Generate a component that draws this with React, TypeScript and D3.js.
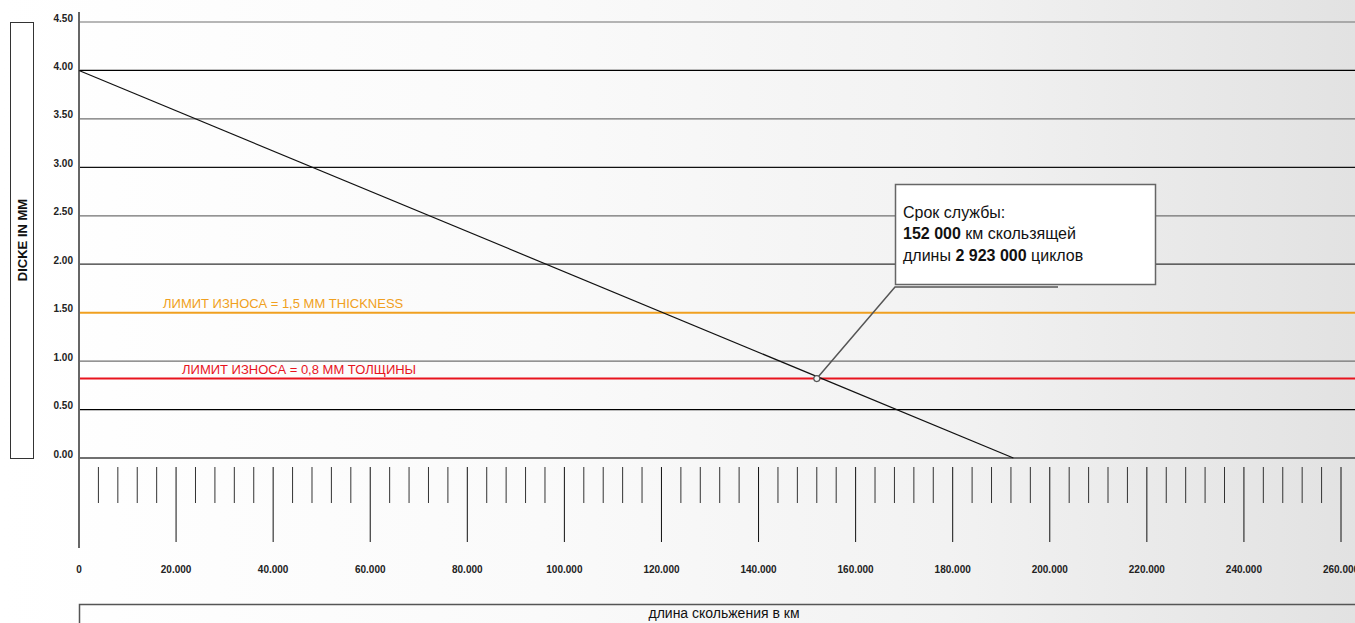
import React from "react";
import * as d3 from "d3";

const W = 1355;
const H = 623;

// Data
const yTicks = [0, 0.5, 1.0, 1.5, 2.0, 2.5, 3.0, 3.5, 4.0, 4.5];
const yTickLabels = ["0.00", "0.50", "1.00", "1.50", "2.00", "2.50", "3.00", "3.50", "4.00", "4.50"];
const gridColors = ["#707070", "#000000", "#707070", "#f0a020", "#333333", "#707070", "#111111", "#707070", "#000000", "#707070"];
const xMajorTicks = [0, 20000, 40000, 60000, 80000, 100000, 120000, 140000, 160000, 180000, 200000, 220000, 240000, 260000];
const xMajorLabels = ["0", "20.000", "40.000", "60.000", "80.000", "100.000", "120.000", "140.000", "160.000", "180.000", "200.000", "220.000", "240.000", "260.000"];
const xMinorStep = 4000;
const wearLine = [
  { km: 0, mm: 4.0 },
  { km: 192500, mm: 0 },
];
const limitOrange = 1.5;
const limitRed = 0.82;
const servicePoint = { km: 152000, mm: 0.82 };
const orangeLabel = "ЛИМИТ ИЗНОСА = 1,5 ММ THICKNESS";
const redLabel = "ЛИМИТ ИЗНОСА = 0,8 ММ ТОЛЩИНЫ";
const yTitle = "DICKE IN MM";
const xTitle = "длина скольжения в км";

export default function App() {
  const x = d3.scaleLinear().domain([0, 260000]).range([79, 1341]);
  const y = d3.scaleLinear().domain([0, 4.5]).range([458, 22]);

  const minor = d3.range(xMinorStep, 260001, xMinorStep);
  const line = d3
    .line<{ km: number; mm: number }>()
    .x((d) => x(d.km))
    .y((d) => y(d.mm));

  const font = "'Liberation Sans', Arial, Helvetica, sans-serif";
  const box = { x: 895, y: 184, w: 260, h: 100 };
  const px = x(servicePoint.km);
  const py = y(servicePoint.mm);

  return (
    <svg
      width={W}
      height={H}
      style={{ position: "absolute", left: 0, top: 0, display: "block" }}
      fontFamily={font}
    >
      <defs>
        <linearGradient id="bg" x1="0" x2="1" y1="0" y2="0">
          <stop offset="0%" stopColor="#ffffff" />
          <stop offset="40%" stopColor="#fafafa" />
          <stop offset="70%" stopColor="#f2f2f2" />
          <stop offset="100%" stopColor="#e2e2e2" />
        </linearGradient>
      </defs>
      <rect x={0} y={0} width={W} height={H} fill="url(#bg)" />

      {/* Y title box */}
      <rect x={10.5} y={22.5} width={23} height={436} fill="#ffffff" stroke="#333" strokeWidth={1} />
      <text
        transform={`translate(26.5,${240}) rotate(-90)`}
        textAnchor="middle"
        fontSize={13}
        fontWeight="bold"
        fill="#111"
      >
        {yTitle}
      </text>

      {/* Gridlines */}
      {yTicks.map((t, i) => (
        <line
          key={"g" + i}
          x1={79}
          x2={W}
          y1={y(t)}
          y2={y(t)}
          stroke={gridColors[i]}
          strokeWidth={t === 0 ? 2 : t === limitOrange ? 2 : 1.2}
        />
      ))}
      {/* red limit line */}
      <line x1={79} x2={W} y1={y(limitRed)} y2={y(limitRed)} stroke="#e8141e" strokeWidth={2} />

      {/* limit labels */}
      <text x={163} y={y(limitOrange) - 5} fontSize={13} fill="#f0a020">
        {orangeLabel}
      </text>
      <text x={182} y={y(limitRed) - 5} fontSize={13} fill="#e8141e">
        {redLabel}
      </text>

      {/* Y tick labels */}
      {yTicks.map((t, i) => (
        <text
          key={"yl" + i}
          x={73}
          y={y(t) - 0.5}
          textAnchor="end"
          fontSize={10}
          fontWeight="bold"
          fill="#222"
        >
          {yTickLabels[i]}
        </text>
      ))}

      {/* Y axis line */}
      <line x1={79} x2={79} y1={12} y2={548} stroke="#666" strokeWidth={2} />

      {/* x ticks */}
      {minor.map((v) => {
        const major = v % 20000 === 0;
        return (
          <line
            key={"t" + v}
            x1={x(v)}
            x2={x(v)}
            y1={467}
            y2={major ? 542 : 503}
            stroke={major ? "#111" : "#333"}
            strokeWidth={1}
          />
        );
      })}
      {xMajorTicks.map((t, i) => (
        <text
          key={"xl" + i}
          x={x(t)}
          y={573}
          textAnchor="middle"
          fontSize={10}
          fontWeight="bold"
          fill="#222"
        >
          {xMajorLabels[i]}
        </text>
      ))}

      {/* wear line */}
      <path d={line(wearLine) || ""} fill="none" stroke="#111" strokeWidth={1.2} />

      {/* leader */}
      <polyline
        points={`${px},${py} ${box.x},${box.y + box.h + 3} ${1058},${box.y + box.h + 3}`}
        fill="none"
        stroke="#555"
        strokeWidth={1.5}
      />
      <circle cx={px} cy={py} r={3} fill="#f4f4f4" stroke="#555" strokeWidth={1.2} />

      {/* annotation box */}
      <rect x={box.x + 0.5} y={box.y + 0.5} width={box.w} height={box.h} fill="#ffffff" stroke="#666" strokeWidth={1.5} />
      <text x={903} y={218} fontSize={16} fill="#111">
        Срок службы:
      </text>
      <text x={903} y={239} fontSize={16} fill="#111">
        <tspan fontWeight="bold">152 000</tspan> км скользящей
      </text>
      <text x={903} y={261} fontSize={16} fill="#111">
        длины <tspan fontWeight="bold">2 923 000</tspan> циклов
      </text>

      {/* x title box */}
      <polyline points={`79.5,${H} 79.5,604.5 ${W},604.5`} fill="none" stroke="#555" strokeWidth={1.5} />
      <text x={724} y={618} textAnchor="middle" fontSize={14} fill="#111">
        {xTitle}
      </text>
    </svg>
  );
}
